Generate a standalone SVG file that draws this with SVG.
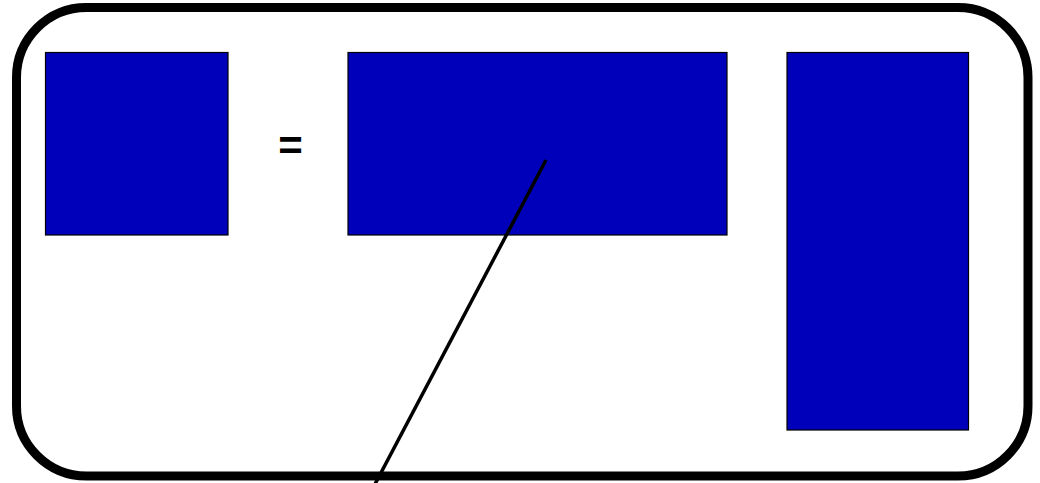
<svg xmlns="http://www.w3.org/2000/svg" width="1040" height="483" viewBox="0 0 1040 483">
<style>
.blk{fill:#0000bb;stroke:#000;stroke-width:1.2}
.frame{fill:#fff;stroke:#000;stroke-width:9}
.conn{stroke:#000;stroke-width:3.5;fill:none}
.eq{font-family:"Liberation Sans",Arial,sans-serif;font-weight:bold;font-size:42px;fill:#000}
</style>
<rect width="1040" height="483" fill="#fff"/>
<g id="frame"><rect class="frame" x="16.5" y="7.5" width="1011.5" height="468.5" rx="70" ry="70"/></g>
<g id="block-left"><rect class="blk" x="45.5" y="52.5" width="182.5" height="182.5"/></g>
<g id="equals"><text class="eq" x="290.5" y="160" text-anchor="middle">=</text></g>
<g id="block-middle"><rect class="blk" x="348" y="52.5" width="379" height="182.5"/></g>
<g id="block-right"><rect class="blk" x="787" y="52.5" width="181.5" height="377.5"/></g>
<g id="connectors"><line class="conn" x1="546" y1="160" x2="374" y2="486"/></g>
</svg>
